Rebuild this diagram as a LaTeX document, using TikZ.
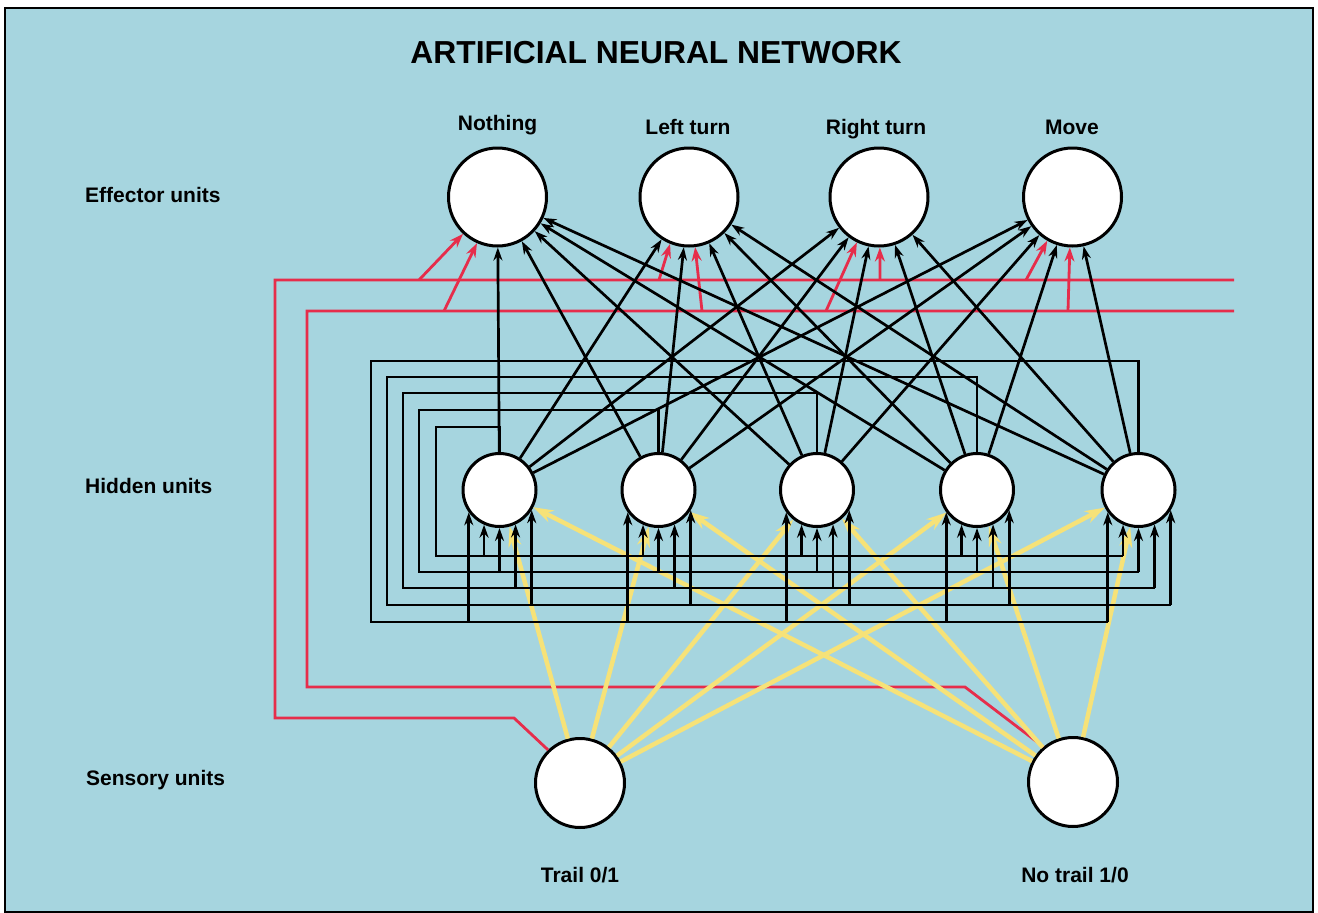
\documentclass[tikz,border=0pt]{standalone}
\usepackage{fontspec}
\setmainfont{Liberation Sans}
\usepackage{xcolor}
\definecolor{panel}{RGB}{166,213,223}
\definecolor{busred}{RGB}{230,45,75}
\definecolor{sensyel}{RGB}{246,226,120}
\usepackage{tikz}
\usetikzlibrary{positioning,arrows.meta,calc}

\begin{document}
\begin{tikzpicture}[font=\bfseries\fontsize{21}{25}\selectfont, x=1pt, y=-1pt, >=Stealth]
\tikzset{unit/.style={circle, draw, line width=3pt, fill=white, inner sep=0pt},
  eff/.style={unit, minimum size=98pt},
  hid/.style={unit, minimum size=73pt},
  sen/.style={unit, minimum size=89pt},
  lbl/.style={inner sep=0pt},
  wire/.style={line width=2.7pt, -{Stealth[length=13pt,width=9pt]}},
  fb/.style={line width=2.7pt},
  bus/.style={busred, line width=2.8pt},
  tap/.style={busred, line width=2.8pt, -{Stealth[length=14pt,width=10pt]}},
  feed/.style={sensyel, line width=4.5pt, -{Stealth[length=20pt,width=13pt]}}}
\useasboundingbox (0,0) rectangle (1318,913);
\fill[white] (0,0) rectangle (1318,913);
\draw[line width=1.5pt, fill=panel] (5,8) rectangle (1313,912);
\node[lbl, anchor=base] (title) at (656,63) {\fontsize{31.8}{37}\selectfont ARTIFICIAL NEURAL NETWORK};
% effector units
\node[eff] (e1) at (497.5,197) {};
\node[eff] (e2) at (689,197)   {};
\node[eff] (e3) at (879,197)   {};
\node[eff] (e4) at (1072.5,197) {};
\node[lbl, anchor=base] (l1) at (497.5,130) {Nothing};
\node[lbl, anchor=base] (l2) at (688,134)   {Left turn};
\node[lbl, anchor=base] (l3) at (876,134)   {Right turn};
\node[lbl, anchor=base] (l4) at (1072,134)  {Move};
% hidden units
\node[hid] (h1) at (499.5,490) {};
\node[hid] (h2) at (658.5,490) {};
\node[hid] (h3) at (817,490)   {};
\node[hid] (h4) at (977,490)   {};
\node[hid] (h5) at (1138.5,490) {};
% sensory units
\node[sen] (s1) at (580,783)  {};
\node[sen] (s2) at (1073,782) {};
\node[lbl, anchor=base] (t1) at (580,882)  {Trail 0/1};
\node[lbl, anchor=base] (t2) at (1075,882) {No trail 1/0};
\node[lbl, anchor=base west] (re) at (85,202) {Effector units};
\node[lbl, anchor=base west] (rh) at (85,493) {Hidden units};
\node[lbl, anchor=base west] (rs) at (86,785) {Sensory units};
% direct sensory -> effector buses
\coordinate (endA) at (1234,280);
\coordinate (endB) at (1234,311);
\draw[bus] (s1.134) -- (514,718) -| (275,280) -- (endA);
\draw[bus] (s2.130) -- (965,687) -| (307,311) -- (endB);
\coordinate (a1) at (419,280);  \coordinate (b1) at (444,311);
\coordinate (a2) at (659,280);  \coordinate (b2) at (702,311);
\coordinate (a3) at (880,280);  \coordinate (b3) at (826,311);
\coordinate (a4) at (1026,280); \coordinate (b4) at (1068,311);
\draw[tap] (a1) -- (e1.-133);
\draw[tap] (b1) -- (e1.-114);
\draw[tap] (a2) -- (e2.-112);
\draw[tap] (b2) -- (e2.-83);
\draw[tap] (b3) -- (e3.-116);
\draw[tap] (a3) -- (e3.-89);
\draw[tap] (a4) -- (e4.-120);
\draw[tap] (b4) -- (e4.-93);
% sensory -> hidden
\foreach \s in {1,2}
  \foreach \h in {1,...,5}
    \draw[feed] (s\s) -- (h\h);
% hidden -> effector
\foreach \h in {1,...,5}
  \foreach \e in {1,...,4}
    \draw[wire] (h\h) -- (e\e);
% recurrent loops
\foreach \i/\yt/\xl/\yb/\dx in {1/427/436/556/-15.5, 2/410/419/572/0, 3/393/403/588/16, 4/377/387/605/32, 5/361/371/622/-31}{
  \pgfmathsetmacro\xend{1138.5+\dx}
  \pgfmathsetmacro\ang{-90+asin(\dx/38)}
  \draw[fb] (h\i.north) |- (\xl,\yt) |- (\xend,\yb);
  \foreach \j in {1,...,5}
    \draw[wire] (h\j.\ang |- 0,\yb) -- (h\j.\ang);
}
\end{tikzpicture}
\end{document}
